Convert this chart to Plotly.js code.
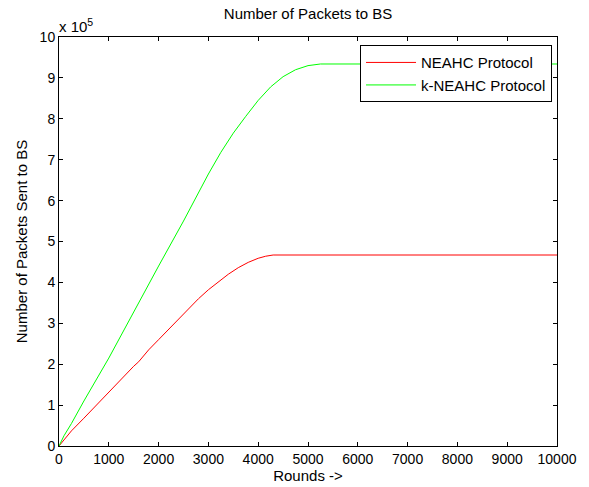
<!DOCTYPE html>
<html>
<head>
<meta charset="utf-8">
<script src="https://cdn.plot.ly/plotly-3.0.1.min.js"></script>
<style>html,body{margin:0;padding:0;background:#fff;}#chart{width:589px;height:487px;}</style>
</head>
<body>
<div id="chart"></div>
<script>
// Rounds and packets sent to BS (in units of 1e5)
var redRounds = [0, 100, 250, 500, 1000, 1500, 1600, 1800, 2000, 2500, 2800, 3000, 3200, 3400, 3600, 3800, 4000, 4150, 4300, 5000, 10000];
var redValues = [0, 0.15, 0.37, 0.68, 1.32, 1.95, 2.06, 2.35, 2.6, 3.22, 3.6, 3.82, 4.02, 4.2, 4.36, 4.49, 4.59, 4.64, 4.67, 4.67, 4.67];
var greenRounds = [0, 100, 250, 500, 1000, 1500, 2000, 2500, 2750, 3000, 3250, 3500, 3750, 4000, 4250, 4500, 4750, 5000, 5250, 10000];
var greenValues = [0, 0.25, 0.55, 1.1, 2.15, 3.28, 4.4, 5.5, 6.08, 6.65, 7.18, 7.65, 8.06, 8.45, 8.78, 9.03, 9.2, 9.3, 9.34, 9.34];
var seriesNames = ["NEAHC Protocol", "k-NEAHC Protocol"];

var fam = "Liberation Sans, Arial, sans-serif";
var tickFont = {family: fam, size: 14, color: "#000"};
var textFont = {family: fam, size: 15, color: "#000"};

var traces = [
  {x: redRounds, y: redValues, type: "scatter", mode: "lines", name: seriesNames[0],
   line: {color: "#ff0000", width: 1}},
  {x: greenRounds, y: greenValues, type: "scatter", mode: "lines", name: seriesNames[1],
   line: {color: "#00ff00", width: 1}}
];

var axisCommon = {
  showline: true, linecolor: "#000", linewidth: 1, mirror: "ticks",
  ticks: "inside", ticklen: 4, tickcolor: "#000", tickwidth: 1,
  showgrid: false, zeroline: false, tickfont: tickFont
};

var layout = {
  width: 589, height: 487,
  margin: {l: 59, r: 32, t: 37, b: 41},
  paper_bgcolor: "#fff", plot_bgcolor: "#fff",
  font: textFont,
  title: {text: "Number of Packets to BS", font: textFont, x: 0.523, xanchor: "center", y: 0.972, yanchor: "middle"},
  xaxis: Object.assign({}, axisCommon, {
    range: [0, 10000], dtick: 1000, tick0: 0, tickformat: "d", automargin: false,
    title: {text: "Rounds ->", font: textFont, standoff: 3}
  }),
  yaxis: Object.assign({}, axisCommon, {
    range: [0, 10], dtick: 1, tick0: 0, automargin: false,
    title: {text: "Number of Packets Sent to BS", font: textFont, standoff: 8}
  }),
  showlegend: true,
  legend: {
    x: 0.99, xanchor: "right", y: 0.98, yanchor: "top",
    bgcolor: "#fff", bordercolor: "#000", borderwidth: 1,
    font: textFont, tracegroupgap: 0, itemwidth: 50
  },
  annotations: [{
    text: "x 10<sup>5</sup>", xref: "paper", yref: "paper", x: 0, y: 1,
    xanchor: "left", yanchor: "bottom", showarrow: false, font: textFont, yshift: 0, xshift: -2
  }]
};

Plotly.newPlot("chart", traces, layout, {staticPlot: true, displayModeBar: false});
</script>
</body>
</html>
